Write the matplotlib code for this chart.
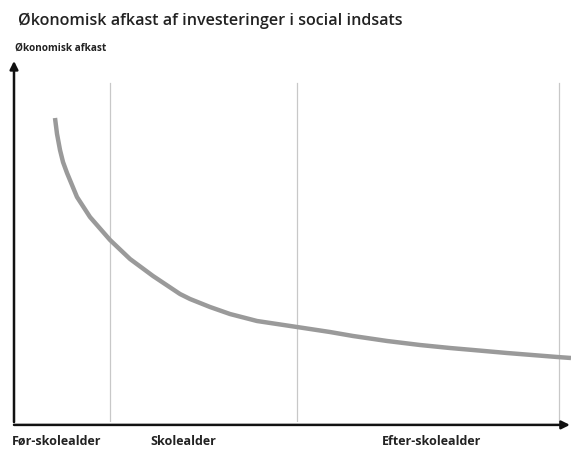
import matplotlib
matplotlib.use("Agg")
import matplotlib.pyplot as plt

# aflæste punkter på kurven (x = alder i relative enheder, y = afkast)
alder = [7.36, 7.72, 8.26, 8.80, 9.52, 11.31, 13.64, 17.24, 20.83, 24.96, 29.80, 31.60,
         35.19, 38.78, 43.63, 50.81, 56.73, 60.86, 66.97, 72.89, 78.28, 82.41, 88.51,
         97.49, 100.0]
afkast = [83.98, 79.6, 75.14, 71.8, 68.78, 62.15, 56.63, 50.28, 45.03, 40.33, 35.36, 33.98,
          31.77, 29.83, 27.90, 26.24, 24.86, 23.76, 22.38, 21.27, 20.44, 19.89, 19.06,
          17.96, 17.68]

# grænser mellem faserne og deres navne
faser_graenser = [17.2, 50.8, 97.8]
faser = ["Før-skolealder", "Skolealder", "Efter-skolealder"]
faser_x = [-0.4, 24.4, 66.1]

titel = "Økonomisk afkast af investeringer i social indsats"
y_tekst = "Økonomisk afkast"

fig = plt.figure(figsize=(5.71, 4.5), dpi=100)
ax = fig.add_axes([14 / 571, 1 - 422 / 450, 557 / 571, 362 / 450])
ax.set_xlim(0, 100)
ax.set_ylim(0, 100)
ax.axis("off")

for g in faser_graenser:
    ax.plot([g, g], [0, 93.6], color="#c8c8c8", lw=0.9, zorder=1)

ax.plot(alder, afkast, color="#9a9a9a", lw=3.2, solid_capstyle="butt",
        solid_joinstyle="round", zorder=3)

# akser med pile
ax.annotate("", xy=(0, 100.5), xytext=(0, -0.8),
            arrowprops=dict(arrowstyle="-|>", color="#111111", lw=1.8, mutation_scale=12),
            annotation_clip=False)
ax.annotate("", xy=(100.3, -0.8), xytext=(-0.5, -0.8),
            arrowprops=dict(arrowstyle="-|>", color="#111111", lw=1.8, mutation_scale=12),
            annotation_clip=False)

for navn, xp in zip(faser, faser_x):
    ax.text(xp, -5.3, navn, ha="left", va="center", fontsize=9, fontweight="bold",
            family="Open Sans", color="#222222", clip_on=False)

fig.text(18 / 571, 1 - 21 / 450, titel, ha="left", va="center", fontsize=11.6,
         family="Open Sans", fontweight="semibold", color="#222222")
fig.text(15 / 571, 1 - 48 / 450, y_tekst, ha="left", va="center", fontsize=7.2,
         family="Open Sans", fontweight="bold", color="#222222")

fig.savefig("out.png", dpi=100)
